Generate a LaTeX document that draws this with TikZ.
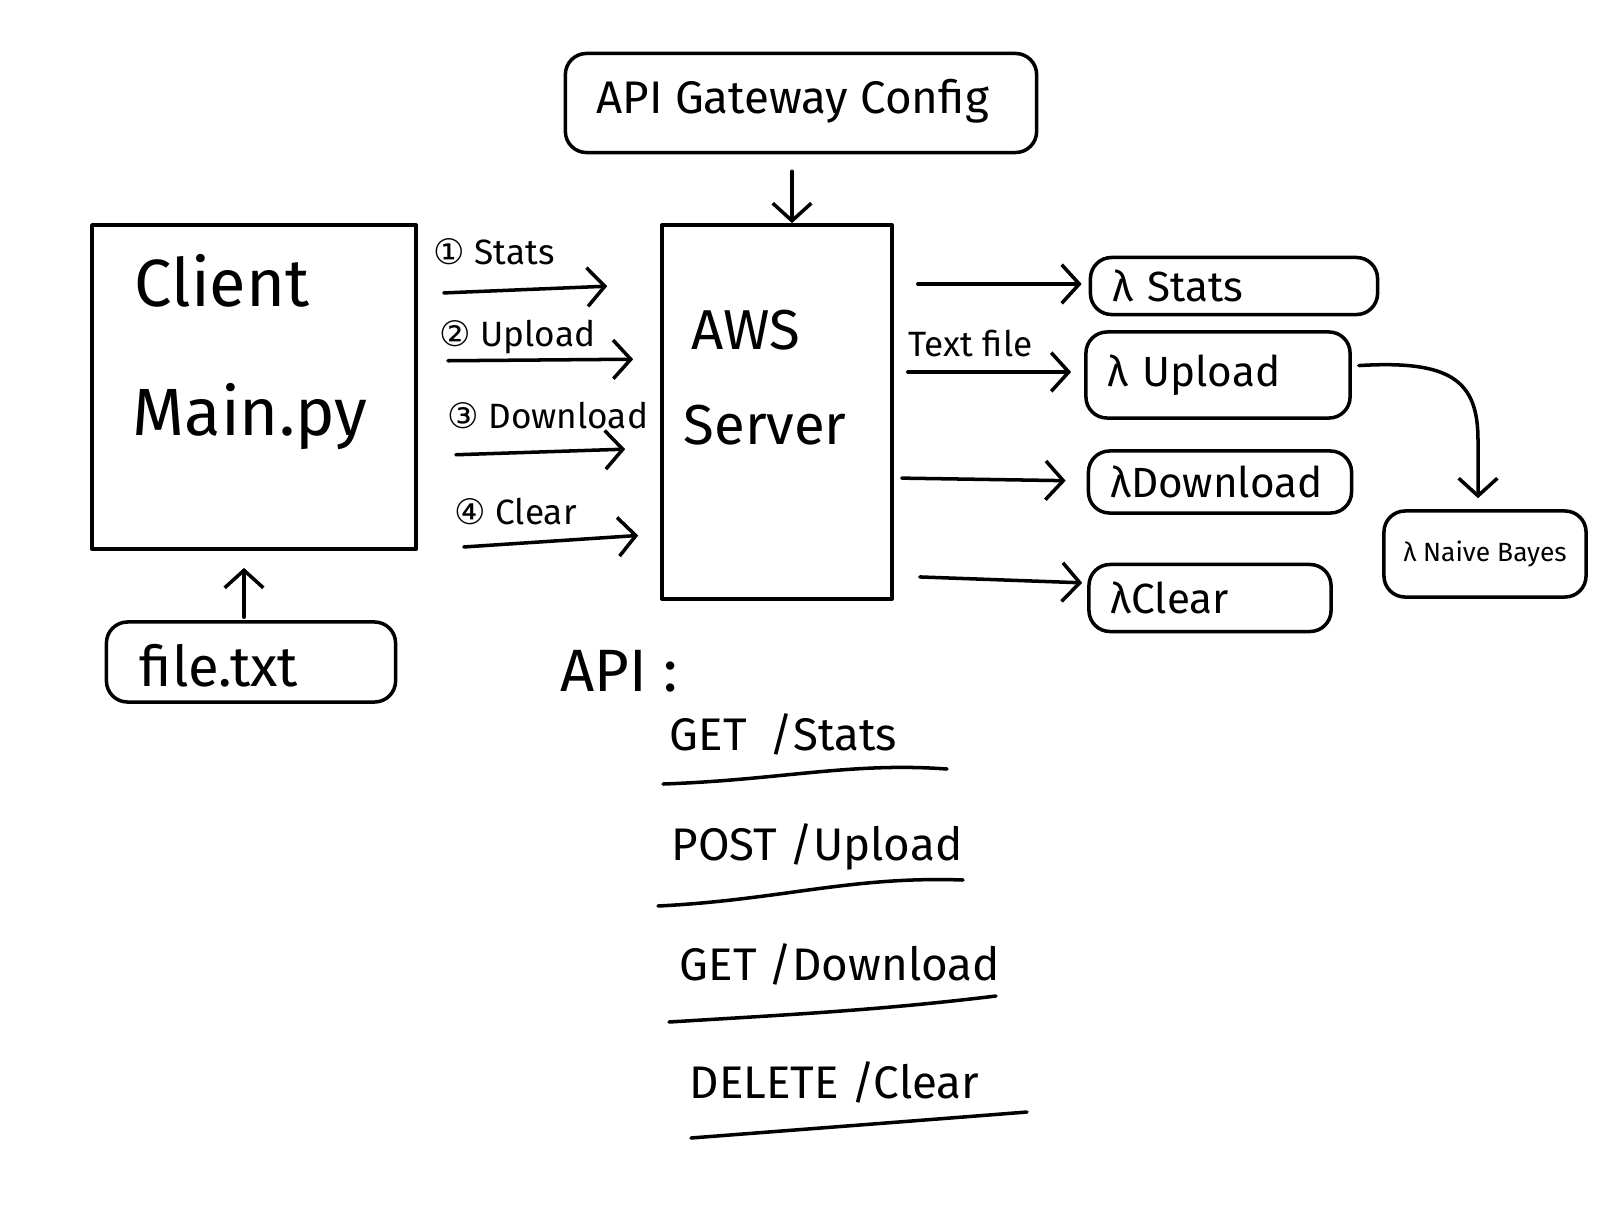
\documentclass[tikz,border=0pt]{standalone}
\usepackage{fontspec}
\setmainfont{Fira Sans}
\newfontfamily\circfont{DejaVu Sans}
\usetikzlibrary{arrows.meta}

\tikzset{
  pen/.style={line width=1pt, line cap=round, line join=round},
  flow/.style={pen, -{Straight Barb[length=5pt,width=11pt,line width=1pt]}},
  plainbox/.style={draw, pen, inner sep=0pt},
  sketchbox/.style={draw, pen, inner sep=0pt, rounded corners=6pt},
  lambdabox/.style={sketchbox, inner xsep=0.22cm, align=left,
    font=\fontsize{12}{14}\selectfont},
  label/.style={anchor=base west, inner sep=0pt},
  big/.style={label, font=\fontsize{19}{23}\selectfont},
  mid/.style={label, font=\fontsize{16}{19}\selectfont},
  call/.style={label, font=\fontsize{10}{12}\selectfont},
  route/.style={label, font=\fontsize{13}{15}\selectfont},
}

\begin{document}
\begin{tikzpicture}[x=0.01cm, y=-0.01cm]
  \useasboundingbox[fill=white] (0,0) rectangle (1618,1221);

  % boxes
  \node[sketchbox, minimum width=4.71cm, minimum height=0.99cm] (gateway) at (801,103) {};
  \node[plainbox, minimum width=3.24cm, minimum height=3.24cm] (client) at (254,387) {};
  \node[plainbox, minimum width=2.30cm, minimum height=3.74cm] (server) at (777,412) {};
  \node[sketchbox, minimum width=2.89cm, minimum height=0.80cm] (file) at (251,662) {};

  \node[lambdabox, text width=2.43cm, minimum height=0.57cm] (stats) at (1234,286) {λ Stats};
  \node[lambdabox, text width=2.20cm, minimum height=0.86cm] (upload) at (1218,375) {λ Upload};
  \node[lambdabox, text width=2.19cm, minimum height=0.62cm] (download) at (1220,482) {λDownload};
  \node[lambdabox, text width=1.98cm, minimum height=0.67cm] (clear) at (1210,598) {λClear};
  \node[sketchbox, minimum width=2.02cm, minimum height=0.86cm,
    font=\fontsize{7.5}{9}\selectfont] (bayes) at (1485,554) {λ Naive Bayes};

  % texts
  \node[label, font=\fontsize{13}{15}\selectfont] (gatewaylbl) at (596,113) {API Gateway Config};
  \node[big] (clientlbl) at (134,306) {Client};
  \node[big] (mainlbl) at (132,435) {Main.py};
  \node[mid] (awslbl) at (691,349) {AWS};
  \node[mid] (serverlbl) at (683,444) {Server};
  \node[label, font=\fontsize{16}{19}\selectfont] (filelbl) at (139,686) {file.txt};

  \node[call] (call1) at (433,264) {{\circfont ①} Stats};
  \node[call] (call2) at (439,346) {{\circfont ②} Upload};
  \node[call] (call3) at (447,428) {{\circfont ③} Download};
  \node[call] (call4) at (454,524) {{\circfont ④} Clear};
  \node[call] (textfile) at (908,356) {Text file};

  \node[label, font=\fontsize{17}{20}\selectfont] (apilbl) at (560,691) {API :};
  \node[route] (route1) at (669,750) {GET\enspace/Stats};
  \node[route] (route2) at (671,860) {POST /Upload};
  \node[route] (route3) at (679,980) {GET /Download};
  \node[route] (route4) at (689,1098) {DELETE /Clear};

  % connectors
  \draw[flow, shorten <=0.17cm] (gateway.south -| 792,0) -- (server.north -| 792,0);
  \draw[flow, shorten <=0.03cm, shorten >=0.17cm] (file.north -| 244,0) -- (client.south -| 244,0);

  \draw[flow, shorten <=0.26cm, shorten >=0.53cm] (client.east |- 0,294) -- (server.west |- 0,284);
  \draw[flow, shorten <=0.30cm, shorten >=0.27cm] (client.east |- 0,361) -- (server.west |- 0,359);
  \draw[flow, shorten <=0.38cm, shorten >=0.35cm] (client.east |- 0,456) -- (server.west |- 0,448);
  \draw[flow, shorten <=0.46cm, shorten >=0.22cm] (client.east |- 0,550) -- (server.west |- 0,534);

  \draw[flow, shorten <=0.24cm, shorten >=0.07cm] (server.east |- 0,284) -- (stats.west |- 0,284);
  \draw[flow, shorten <=0.14cm, shorten >=0.13cm] (server.east |- 0,372) -- (upload.west |- 0,372);
  \draw[flow, shorten <=0.08cm, shorten >=0.21cm] (server.east |- 0,478) -- (download.west |- 0,481);
  \draw[flow, shorten <=0.26cm, shorten >=0.05cm] (server.east |- 0,576) -- (clear.west |- 0,583);

  \draw[flow, shorten <=0.07cm, shorten >=0.11cm] (upload.east |- 0,366)
    .. controls (1450,360) and (1478,380) .. (1478,440) -- (bayes.north -| 1478,0);

  % underlines
  \draw[pen] (663,784) .. controls (780,780) and (850,762) .. (947,769);
  \draw[pen] (658,906) .. controls (780,900) and (850,876) .. (963,880);
  \draw[pen] (669,1022) .. controls (800,1014) and (880,1010) .. (996,996);
  \draw[pen] (691,1138) .. controls (820,1128) and (900,1122) .. (1027,1112);
\end{tikzpicture}
\end{document}
